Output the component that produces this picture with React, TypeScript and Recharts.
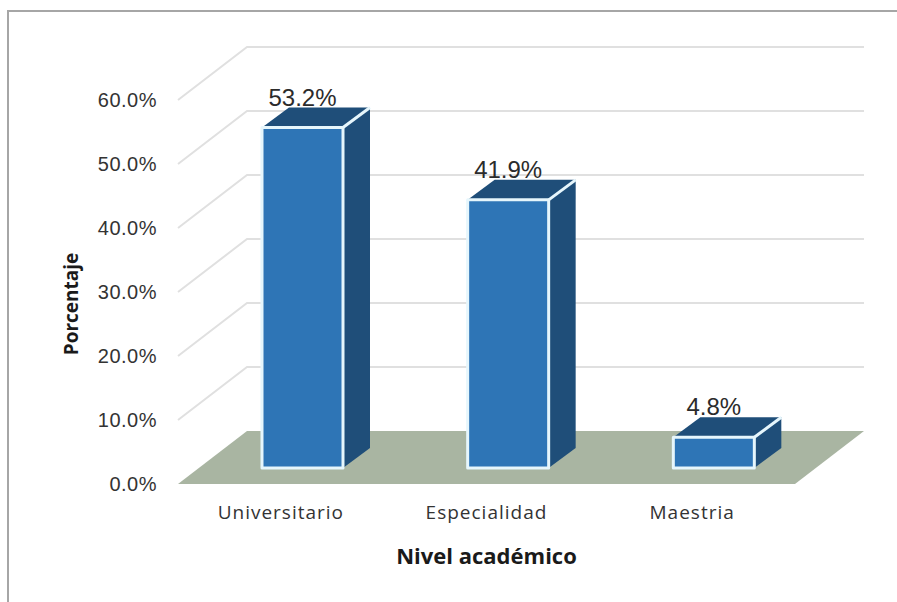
import React from 'react';
import { BarChart, Bar, XAxis, YAxis, ReferenceLine, LabelList, Label } from 'recharts';

const categories = ['Universitario', 'Especialidad', 'Maestria'];
const percentages = [53.2, 41.9, 4.8];
const yTicks = [0, 10, 20, 30, 40, 50, 60];
const gridValues = [10, 20, 30, 40, 50, 60];

const rows = categories.map((name, i) => ({ name, value: percentages[i] }));
const pct = (v: number) => `${v.toFixed(1)}%`;

// Oblique projection used to fake the 3D box look
const WALL_DX = 69;
const WALL_DY = 53;
const BAR_SHIFT_X = 22;
const BAR_SHIFT_Y = 16;
const BOX_DX = 27;
const BOX_DY = 20;
const FRONT = '#2e75b6';
const DARK = '#1f4e79';
const EDGE = '#e6f6fc';

function WallLine(props: any) {
  const { x1, x2, y1 } = props;
  return (
    <polyline
      points={`${x1},${y1} ${x1 + WALL_DX},${y1 - WALL_DY} ${x2 + WALL_DX},${y1 - WALL_DY}`}
      fill="none"
      stroke="#e0e0e0"
      strokeWidth={2}
    />
  );
}

function Floor(props: any) {
  const { x1, x2, y1 } = props;
  return (
    <polygon
      points={`${x1},${y1} ${x2},${y1} ${x2 + WALL_DX},${y1 - WALL_DY} ${x1 + WALL_DX},${y1 - WALL_DY}`}
      fill="#a9b5a2"
    />
  );
}

function Box(props: any) {
  const { x, y, width, height } = props;
  const l = x + BAR_SHIFT_X;
  const r = l + width;
  const t = y - BAR_SHIFT_Y;
  const b = t + height;
  return (
    <g stroke={EDGE} strokeWidth={3} strokeLinejoin="round">
      <polygon points={`${l},${t} ${l + BOX_DX},${t - BOX_DY} ${r + BOX_DX},${t - BOX_DY} ${r},${t}`} fill={DARK} stroke="none" />
      <polygon points={`${r},${t} ${r + BOX_DX},${t - BOX_DY} ${r + BOX_DX},${b - BOX_DY} ${r},${b}`} fill={DARK} stroke="none" />
      <rect x={l} y={t} width={width} height={height} fill={FRONT} />
      <line x1={r} y1={t} x2={r + BOX_DX} y2={t - BOX_DY} />
    </g>
  );
}

function ValueLabel(props: any) {
  const { x, y, width, value } = props;
  return (
    <text
      x={x + BAR_SHIFT_X + width / 2}
      y={y - BAR_SHIFT_Y - 22}
      textAnchor="middle"
      fontFamily="'Liberation Sans'"
      fontSize={24}
      fill="#2b2b2b"
    >
      {pct(value)}
    </text>
  );
}

export default function App() {
  return (
    <div
      style={{
        position: 'absolute',
        left: 0,
        top: 0,
        width: 897,
        height: 602,
        background: '#ffffff',
      }}
    >
      <div
        style={{
          position: 'absolute',
          left: 7,
          top: 10,
          right: 0,
          bottom: 0,
          borderLeft: '2px solid #a6a6a6',
          borderTop: '2px solid #a6a6a6',
        }}
      />
      <BarChart
        width={897}
        height={602}
        data={rows}
        margin={{ top: 100, right: 102, bottom: 0, left: 78 }}
        style={{ position: 'absolute', left: 0, top: 0 }}
      >
        <ReferenceLine y={0} shape={Floor} zIndex={100} />
        {gridValues.map((v) => (
          <ReferenceLine key={v} y={v} shape={WallLine} zIndex={100} />
        ))}
        <XAxis
          dataKey="name"
          axisLine={false}
          tickLine={false}
          height={118}
          tick={{ fontFamily: "'Open Sans'", fontSize: 19, fill: '#333333', dy: 14, letterSpacing: 1 }}
          interval={0}
        >
          <Label
            value="Nivel académico"
            position="insideTop"
            offset={64}
            style={{ fontFamily: "'Open Sans'", fontWeight: 700, fontSize: 22, fill: '#1a1a1a' }}
          />
        </XAxis>
        <YAxis
          domain={[0, 60]}
          ticks={yTicks}
          tickFormatter={pct}
          axisLine={false}
          tickLine={false}
          width={100}
          tickMargin={15}
          tick={{ fontFamily: "'Liberation Sans'", fontSize: 20, fill: '#333333', letterSpacing: 0.5 }}
        >
          <Label
            value="Porcentaje"
            angle={-90}
            position="insideLeft"
            offset={-7}
            dy={12}
            style={{ fontFamily: "'Open Sans'", fontWeight: 700, fontSize: 19, fill: '#1a1a1a', textAnchor: 'middle' }}
          />
        </YAxis>
        <Bar dataKey="value" barSize={81} shape={Box} isAnimationActive={false}>
          <LabelList dataKey="value" content={ValueLabel} />
        </Bar>
      </BarChart>
    </div>
  );
}
